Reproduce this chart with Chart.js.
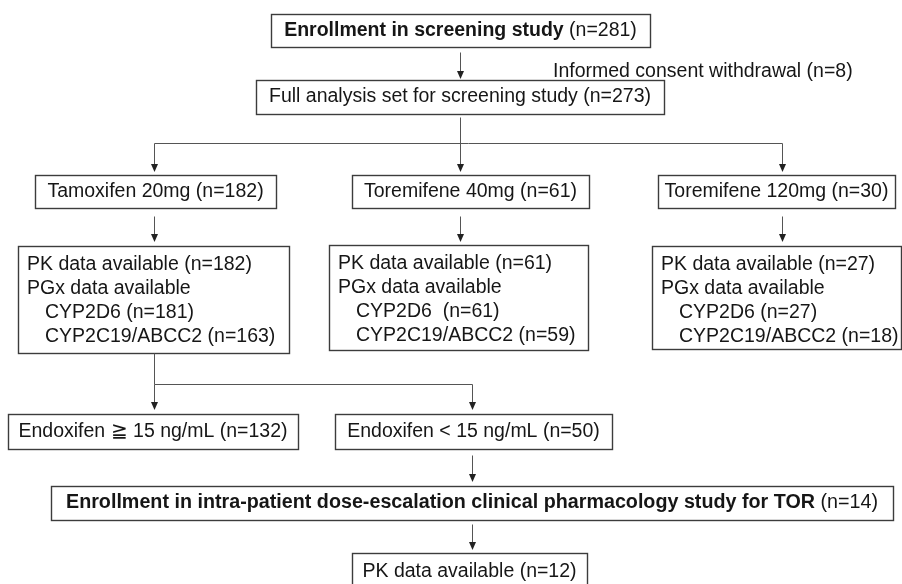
<!DOCTYPE html>
<html>
<head>
<meta charset="utf-8">
<script src="https://cdn.jsdelivr.net/npm/chart.js@4/dist/chart.umd.min.js"></script>
<style>
  html, body { margin: 0; padding: 0; background: #ffffff; }
  #wrap { width: 902px; height: 584px; }
</style>
</head>
<body>
<div id="wrap"><canvas id="c" width="902" height="584"></canvas></div>
<script>
// ---------------- DATA ----------------
const screeningLabel = 'Enrollment in screening study';
const screeningN = 281;
const withdrawalLabel = 'Informed consent withdrawal';
const withdrawalN = 8;
const fullSetLabel = 'Full analysis set for screening study';
const fullSetN = 273;

const armLabels = ['Tamoxifen 20mg', 'Toremifene 40mg', 'Toremifene 120mg'];
const armN = [182, 61, 30];
const pkN = [182, 61, 27];
const cyp2d6Labels = ['CYP2D6 ', 'CYP2D6  ', 'CYP2D6 '];
const cyp2d6N = [181, 61, 27];
const cyp2c19N = [163, 59, 18];

const endoxLabels = ['Endoxifen \u2267 15 ng/mL', 'Endoxifen < 15 ng/mL'];
const endoxN = [132, 50];

const escalationLabel = 'Enrollment in intra-patient dose-escalation clinical pharmacology study for TOR';
const escalationN = 14;
const escalationPkN = 12;

// ---------------- LAYOUT (scale units, separate from data) ----------------
const L = {
  screen: { x0: 271, x1: 650, y0: 14, y1: 47 },
  withdraw: { x: 553, y: 72 },
  fullSet: { x0: 256, x1: 664, y0: 80, y1: 114 },
  arms: [ { x0: 35, x1: 276 }, { x0: 352, x1: 589 }, { x0: 658, x1: 895 } ],
  armY: [175, 208],
  pk: [ { x0: 18, x1: 289, y0: 246, y1: 353 },
        { x0: 329, x1: 588, y0: 245, y1: 350 },
        { x0: 652, x1: 901, y0: 246, y1: 349 } ],
  pkLine0: 19, pkLineGap: 23.8, pkPad: 9, pkIndent: 18,
  endox: [ { x0: 8, x1: 298 }, { x0: 335, x1: 612 } ],
  endoxY: [414, 449],
  esc: { x0: 51, x1: 893, y0: 486, y1: 520, textW: 812 },
  pk12: { x0: 352, x1: 587, y0: 553, y1: 600 },
  cols: [154, 460, 782],
  splitX: 472
};

const FONT = '"Liberation Sans", Arial, Helvetica, sans-serif';
const FS = 19.5;
const TEXT = '#161616';
const BOX = '#3c3c3c';
const LINE = '#555555';

function n(v) { return ' (n=' + v + ')'; }

const flowPlugin = {
  id: 'flow',
  afterDraw(chart) {
    const ctx = chart.ctx;
    const xs = chart.scales.x, ys = chart.scales.y;
    const X = v => xs.getPixelForValue(v);
    const Y = v => ys.getPixelForValue(v);

    function font(bold) { return (bold ? 'bold ' : '') + FS + 'px ' + FONT; }

    function richWidth(segs) {
      let w = 0;
      segs.forEach(s => { ctx.font = font(s.b); w += ctx.measureText(s.t).width; });
      return w;
    }
    function drawRich(segs, x, y, align, fitW) {
      ctx.save();
      ctx.fillStyle = TEXT;
      ctx.textBaseline = 'middle';
      ctx.textAlign = 'left';
      let w = richWidth(segs);
      let sx = 1;
      if (fitW) { sx = fitW / w; w = fitW; }
      let start = align === 'center' ? x - w / 2 : x;
      ctx.translate(start, y);
      ctx.scale(sx, 1);
      let cx = 0;
      segs.forEach(s => {
        ctx.font = font(s.b);
        ctx.fillText(s.t, cx, 0);
        cx += ctx.measureText(s.t).width;
      });
      ctx.restore();
    }
    function box(x0, x1, y0, y1) {
      ctx.save();
      ctx.strokeStyle = BOX;
      ctx.lineWidth = 1.4;
      ctx.strokeRect(Math.round(X(x0)) + 0.5, Math.round(Y(y0)) + 0.5,
                     Math.round(X(x1) - X(x0)), Math.round(Y(y1) - Y(y0)));
      ctx.restore();
    }
    function line(pts) {
      ctx.save();
      ctx.strokeStyle = LINE;
      ctx.lineWidth = 1;
      ctx.beginPath();
      pts.forEach((p, i) => {
        const px = Math.round(X(p[0])) + 0.5, py = Math.round(Y(p[1])) + 0.5;
        if (i === 0) ctx.moveTo(px, py); else ctx.lineTo(px, py);
      });
      ctx.stroke();
      ctx.restore();
    }
    function arrow(x, yA, yB) {
      line([[x, yA], [x, yB - 6]]);
      const px = Math.round(X(x)) + 0.5, tip = Y(yB);
      ctx.save();
      ctx.fillStyle = '#222';
      ctx.beginPath();
      ctx.moveTo(px - 3.5, tip - 8);
      ctx.lineTo(px + 3.5, tip - 8);
      ctx.lineTo(px, tip);
      ctx.closePath();
      ctx.fill();
      ctx.restore();
    }

    // Screening
    const s = L.screen;
    box(s.x0, s.x1, s.y0, s.y1);
    drawRich([{ t: screeningLabel, b: true }, { t: n(screeningN) }], X((s.x0 + s.x1) / 2), Y((s.y0 + s.y1) / 2), 'center');
    arrow(L.cols[1], 52, 79);
    drawRich([{ t: withdrawalLabel + n(withdrawalN) }], X(L.withdraw.x), Y(L.withdraw.y), 'left');

    // Full set
    const f = L.fullSet;
    box(f.x0, f.x1, f.y0, f.y1);
    drawRich([{ t: fullSetLabel + n(fullSetN) }], X((f.x0 + f.x1) / 2), Y((f.y0 + f.y1) / 2), 'center');
    line([[L.cols[1], f.y1 + 3], [L.cols[1], 143]]);
    line([[L.cols[0], 143], [L.cols[2], 143]]);
    L.cols.forEach(c => arrow(c, 143, 172));

    // Arms
    armLabels.forEach((lab, i) => {
      const a = L.arms[i];
      box(a.x0, a.x1, L.armY[0], L.armY[1]);
      drawRich([{ t: lab + n(armN[i]) }], X((a.x0 + a.x1) / 2), Y((L.armY[0] + L.armY[1]) / 2), 'center');
      arrow(L.cols[i], 216, 242);
      const p = L.pk[i];
      box(p.x0, p.x1, p.y0, p.y1);
      const lx = p.x0 + L.pkPad;
      const lines = [
        [lx, 'PK data available' + n(pkN[i])],
        [lx, 'PGx data available'],
        [lx + L.pkIndent, cyp2d6Labels[i] + '(n=' + cyp2d6N[i] + ')'],
        [lx + L.pkIndent, 'CYP2C19/ABCC2' + n(cyp2c19N[i])]
      ];
      lines.forEach((ln, k) => {
        drawRich([{ t: ln[1] }], X(ln[0]), Y(p.y0 + L.pkLine0 + k * L.pkLineGap), 'left');
      });
    });

    // Split under tamoxifen
    const tp = L.pk[0];
    line([[L.cols[0], tp.y1], [L.cols[0], 384], [L.splitX, 384]]);
    arrow(L.cols[0], 384, 410);
    arrow(L.splitX, 384, 410);

    endoxLabels.forEach((lab, i) => {
      const e = L.endox[i];
      box(e.x0, e.x1, L.endoxY[0], L.endoxY[1]);
      drawRich([{ t: lab + n(endoxN[i]) }], X((e.x0 + e.x1) / 2), Y((L.endoxY[0] + L.endoxY[1]) / 2), 'center');
    });
    arrow(L.splitX, 455, 482);

    const e2 = L.esc;
    box(e2.x0, e2.x1, e2.y0, e2.y1);
    drawRich([{ t: escalationLabel, b: true }, { t: n(escalationN) }], X((e2.x0 + e2.x1) / 2), Y((e2.y0 + e2.y1) / 2), 'center', e2.textW);
    arrow(L.splitX, 524, 550);

    const q = L.pk12;
    box(q.x0, q.x1, q.y0, q.y1);
    drawRich([{ t: 'PK data available' + n(escalationPkN) }], X((q.x0 + q.x1) / 2), Y(572), 'center');
  }
};

new Chart(document.getElementById('c'), {
  type: 'scatter',
  data: { datasets: [{ data: [], pointRadius: 0 }] },
  options: {
    responsive: false,
    devicePixelRatio: 1,
    animation: false,
    events: [],
    layout: { padding: 0 },
    plugins: { legend: { display: false }, tooltip: { enabled: false }, title: { display: false } },
    scales: {
      x: { type: 'linear', min: 0, max: 902, display: false },
      y: { type: 'linear', min: 0, max: 584, reverse: true, display: false }
    }
  },
  plugins: [flowPlugin]
});
</script>
</body>
</html>
